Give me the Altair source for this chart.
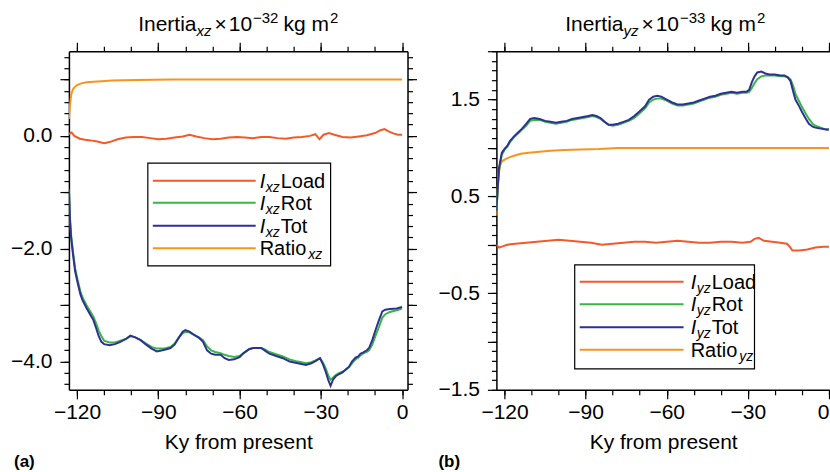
import altair as alt
import pandas as pd

FONT = "Liberation Sans"
C_LOAD = "#F15A29"
C_ROT = "#39B54A"
C_TOT = "#2E3192"
C_RATIO = "#F7941D"

# ---------------- panel (a): xz ----------------
A_T = [-123, -122.6, -122.2, -121.5, -120.7, -119.8, -118.8, -118, -116.5, -115,
       -114, -113, -112, -111, -110, -108, -106, -104, -102, -100.3,
       -98.5, -96.5, -94.5, -92.5, -90.5, -88.5, -87, -85.5, -84, -82.5,
       -81, -80, -78.5, -77, -75, -73.5, -72, -70.5, -69, -67,
       -65.5, -64, -62, -60, -58.5, -56.5, -55, -52, -50.5, -49,
       -46.5, -44, -41.5, -38.5, -35.5, -33.5, -32, -30.3, -29.2, -28.2,
       -27.3, -26.4, -25.5, -24.5, -23.2, -22, -21, -19.6, -18.5, -17.2,
       -16.2, -15.4, -14.5, -13, -12.2, -11, -9.8, -8.5, -7.3, -6.2,
       -4.5, -2, 0]
A_TOT = [-0.95, -1.5, -1.8, -2.1, -2.4, -2.6, -2.8, -2.91, -3.05, -3.18,
         -3.26, -3.4, -3.55, -3.65, -3.69, -3.71, -3.69, -3.65, -3.6, -3.54,
         -3.57, -3.62, -3.7, -3.77, -3.82, -3.8, -3.78, -3.76, -3.7, -3.58,
         -3.47, -3.44, -3.47, -3.52, -3.58, -3.65, -3.8, -3.86, -3.88, -3.88,
         -3.94, -3.97, -3.96, -3.92, -3.85, -3.78, -3.76, -3.76, -3.81, -3.86,
         -3.9, -3.94, -4.0, -4.03, -4.06, -4.03, -3.99, -3.94, -4.05, -4.18,
         -4.32, -4.43, -4.32, -4.26, -4.22, -4.19, -4.15, -4.09, -4.0, -3.93,
         -3.91, -3.86, -3.84, -3.8, -3.76, -3.62, -3.44, -3.26, -3.11, -3.08,
         -3.07, -3.06, -3.03]
A_ROT = [-0.95, -1.45, -1.75, -2.05, -2.35, -2.55, -2.75, -2.86, -3.0, -3.12,
         -3.2, -3.32, -3.45, -3.55, -3.63, -3.66, -3.66, -3.63, -3.6, -3.55,
         -3.57, -3.62, -3.68, -3.74, -3.77, -3.77, -3.76, -3.74, -3.68, -3.58,
         -3.5, -3.47, -3.48, -3.52, -3.57, -3.62, -3.73, -3.8, -3.83, -3.85,
         -3.88, -3.9, -3.92, -3.9, -3.85, -3.78, -3.76, -3.76, -3.79, -3.83,
         -3.87, -3.91, -3.96, -4.0, -4.03, -4.01, -3.98, -3.94, -4.02, -4.12,
         -4.24, -4.32, -4.28, -4.24, -4.2, -4.18, -4.15, -4.1, -4.03, -3.96,
         -3.93, -3.89, -3.86, -3.83, -3.8, -3.7, -3.54, -3.38, -3.22, -3.16,
         -3.12, -3.09, -3.06]
A_LOAD_T = [-123, -122, -121, -119, -117, -115, -112.5, -110, -108, -105,
            -102, -99, -96, -93, -90, -87, -84, -81, -78.5, -76,
            -73, -70, -67, -64, -61, -58, -55, -52, -49, -46,
            -43, -40, -37, -34, -32, -30.5, -29, -27, -25, -22,
            -19, -16, -13, -10, -8, -6.5, -5, -3, -1.5, 0]
A_LOAD = [0.03, 0.06, 0.0, -0.05, -0.07, -0.08, -0.1, -0.13, -0.11, -0.06,
          -0.03, -0.02, -0.02, -0.04, -0.06, -0.05, -0.03, -0.01, 0.02, -0.01,
          -0.04, -0.06, -0.05, -0.03, -0.02, -0.03, -0.04, -0.02, -0.02, -0.04,
          -0.05, -0.03, -0.02, 0.0, 0.03, -0.06, 0.02, 0.05, 0.02, -0.02,
          -0.03, -0.01, 0.01, 0.05, 0.1, 0.12, 0.08, 0.04, 0.02, 0.02]
A_RATIO_T = [-123, -122.6, -122.2, -121.6, -121, -120, -118.5, -116.5, -114, -111,
             -107, -103, -98, -92, -85, -75, 0]
A_RATIO = [0.3, 0.55, 0.72, 0.82, 0.86, 0.9, 0.93, 0.95, 0.96, 0.97,
           0.98, 0.985, 0.99, 0.995, 1.0, 1.0, 1.0]

# ---------------- panel (b): yz ----------------
B_T = [-123, -122.5, -122, -121, -120, -119, -118, -116.5, -115, -113.5,
       -112, -110.5, -109, -107, -105, -103, -101, -99, -97, -95,
       -93, -91, -89, -87.5, -86, -84.5, -83, -81.5, -80, -78,
       -76, -74, -72, -70, -68, -66.5, -65, -63.5, -62, -60,
       -58, -56, -54, -52, -50, -48, -46, -44, -42, -40,
       -38, -36, -34, -32, -30.5, -29.5, -28.5, -27.5, -26.5, -25,
       -23.5, -22, -20, -18, -16.5, -15.2, -14.2, -13.2, -12.4, -11,
       -9.9, -8.5, -7.4, -6, -5, -3, -1, 0]
B_TOT = [0.35, 0.6, 0.8, 0.95, 0.99, 1.02, 1.07, 1.12, 1.16, 1.2,
         1.25, 1.3, 1.31, 1.3, 1.28, 1.27, 1.26, 1.27, 1.28, 1.3,
         1.31, 1.32, 1.33, 1.34, 1.33, 1.31, 1.27, 1.24, 1.24, 1.25,
         1.27, 1.29, 1.33, 1.38, 1.43, 1.5, 1.53, 1.54, 1.53, 1.5,
         1.47, 1.45, 1.45, 1.46, 1.47, 1.49, 1.51, 1.53, 1.54, 1.56,
         1.57, 1.58, 1.57, 1.58, 1.58, 1.6, 1.68, 1.74, 1.78, 1.79,
         1.77, 1.76, 1.76, 1.75, 1.75, 1.73, 1.69, 1.58, 1.5, 1.43,
         1.37, 1.3, 1.25, 1.22, 1.21, 1.2, 1.19, 1.19]
B_ROT = [0.35, 0.58, 0.78, 0.93, 0.98, 1.01, 1.06, 1.11, 1.15, 1.19,
         1.23, 1.28, 1.29, 1.29, 1.27, 1.26, 1.25, 1.26, 1.27, 1.29,
         1.3, 1.31, 1.32, 1.33, 1.32, 1.3, 1.27, 1.24, 1.23, 1.24,
         1.26, 1.28, 1.31, 1.36, 1.41, 1.47, 1.5, 1.51, 1.51, 1.49,
         1.46, 1.44, 1.44, 1.45, 1.46, 1.48, 1.5, 1.52, 1.53, 1.55,
         1.56, 1.57, 1.56, 1.57, 1.57, 1.58, 1.62, 1.67, 1.71, 1.74,
         1.75, 1.75, 1.75, 1.74, 1.74, 1.73, 1.71, 1.64, 1.56, 1.48,
         1.42, 1.35, 1.3, 1.25, 1.23, 1.21, 1.19, 1.19]
B_LOAD_T = [-123, -122, -121, -119, -116, -112, -108, -104, -100, -96,
            -92, -88, -84, -80, -76, -72, -68, -64, -60, -56,
            -52, -48, -44, -40, -36, -32, -29, -27.5, -26, -24,
            -21, -18, -15.5, -14.5, -13.5, -11, -8, -5, -2, 0]
B_LOAD = [0.0, -0.03, -0.02, 0.0, 0.01, 0.02, 0.03, 0.04, 0.05, 0.04,
          0.03, 0.02, 0.0, 0.01, 0.02, 0.03, 0.03, 0.02, 0.03, 0.04,
          0.03, 0.02, 0.02, 0.03, 0.03, 0.02, 0.03, 0.06, 0.07, 0.04,
          0.03, 0.02, 0.01, -0.02, -0.06, -0.06, -0.05, -0.03, -0.02, -0.02]
B_RATIO_T = [-123, -122.6, -122.2, -121.6, -121, -120, -118.5, -116.5, -114, -111,
             -107, -103, -98, -92, -85, -78, 0]
B_RATIO = [0.3, 0.55, 0.72, 0.82, 0.86, 0.88, 0.9, 0.92, 0.94, 0.95,
           0.96, 0.97, 0.98, 0.985, 0.99, 1.0, 1.0]

# axis tick positions
X_MAJOR = [-120, -90, -60, -30, 0]
X_MINOR = [-120, -110, -100, -90, -80, -70, -60, -50, -40, -30, -20, -10, 0]
A_Y_MAJOR = [-4.0, -3.0, -2.0, -1.0, 0.0, 1.0]
A_Y_MINOR = [round(-4.4 + 0.2 * i, 1) for i in range(30)]
B_Y_MAJOR = [-1.5, -1.0, -0.5, 0.0, 0.5, 1.0, 1.5, 2.0]
B_Y_MINOR = [round(-1.5 + 0.1 * i, 1) for i in range(36)]

# ---------------- helpers ----------------
ADV = {"I": 278, "n": 556, "e": 556, "r": 333, "t": 278, "i": 222, "a": 556,
       "x": 500, "z": 500, "y": 500, " ": 278, "×": 584, "1": 556, "0": 556,
       "2": 556, "3": 556, "−": 584, "k": 500, "g": 556, "m": 833, "L": 556,
       "o": 556, "d": 556, "R": 722, "T": 611}


def tw(s, size):
    return sum(ADV.get(c, 556) for c in s) * size / 1000.0


ONE = pd.DataFrame({"k": [0]})


def rich(pieces, x, y, center=False):
    total = sum(tw(p[0], p[1]) + p[4] for p in pieces)
    cx = x - total / 2 if center else x
    out = []
    for text, size, italic, dy, gap in pieces:
        cx += gap
        out.append(
            alt.Chart(ONE).mark_text(
                text=text, align="left", baseline="alphabetic", font=FONT,
                fontSize=size, fontStyle="italic" if italic else "normal",
                color="black",
            ).encode(x=alt.value(cx), y=alt.value(y + dy))
        )
        cx += tw(text, size)
    return out


def axis(orient, values, size, labels=False, domain=False, **kw):
    d = dict(orient=orient, values=values, tickSize=size, tickWidth=1.2,
             tickColor="black", labels=labels, domain=domain, domainWidth=1.5,
             domainColor="black", grid=False, title=None)
    d.update(kw)
    return alt.Axis(**d)


def axis_layers(xdom, ydom, ymaj, ymin, ylabel_expr, right, xflush):
    anchor = pd.DataFrame({"t": [xdom[0]], "v": [ydom[0]]})
    xs = alt.Scale(domain=xdom, nice=False, zero=False)
    ys = alt.Scale(domain=ydom, nice=False, zero=False)
    lab = dict(labelFont=FONT, labelFontSize=21, labelColor="black", labelOverlap=False)
    specs = [
        (axis("bottom", X_MAJOR, 9, labels=True, domain=True, format="d",
              labelPadding=3, labelFlush=xflush, title="Ky from present",
              titleFont=FONT, titleFontSize=21, titleFontWeight="normal",
              titleColor="black", titlePadding=9, **lab),
         axis("left", ymaj, 9, labels=True, domain=True, format=".1f",
              labelPadding=8, labelExpr=ylabel_expr, **lab)),
        (axis("bottom", X_MINOR, 5), axis("left", ymin, 5)),
        (axis("top", X_MAJOR, 9, domain=True),
         axis("right", ymaj, 9, domain=True) if right else None),
        (axis("top", X_MINOR, 5),
         axis("right", ymin, 5) if right else None),
    ]
    out = []
    for xa, ya in specs:
        out.append(
            alt.Chart(anchor).mark_point(opacity=0).encode(
                x=alt.X("t:Q", scale=xs, axis=xa),
                y=alt.Y("v:Q", scale=ys, axis=ya),
            )
        )
    return out, xs, ys


def legend(sub, box, line_x, text_x, rows):
    x0, x1, y0, y1 = box
    out = [alt.Chart(ONE).mark_rect(fill="white", stroke="black", strokeWidth=1.2).encode(
        x=alt.value(x0), x2=alt.value(x1), y=alt.value(y0), y2=alt.value(y1))]
    entries = [("Load", C_LOAD), ("Rot", C_ROT), ("Tot", C_TOT), ("Ratio", C_RATIO)]
    for (name, col), ry in zip(entries, rows):
        out.append(alt.Chart(ONE).mark_rule(color=col, strokeWidth=2).encode(
            x=alt.value(line_x[0]), x2=alt.value(line_x[1]), y=alt.value(ry)))
        if name == "Ratio":
            pieces = [("Ratio", 20, False, 0, 0), (sub, 14, True, 4, 2)]
        else:
            pieces = [("I", 20, True, 0, 0), (sub, 14, True, 4, 0.5), (name, 20, False, 0, 1)]
        out += rich(pieces, text_x, ry + 7)
    return out


def panel(series, xdom, ydom, ymaj, ymin, ylabel_expr, right, xflush, w, h,
          sub, exp, title_cx, leg_box, leg_line, leg_text, leg_rows, letter, letter_x):
    layers, xs, ys = axis_layers(xdom, ydom, ymaj, ymin, ylabel_expr, right, xflush)
    for t, v, col in series:
        df = pd.DataFrame({"t": t, "v": v})
        layers.append(
            alt.Chart(df).mark_line(color=col, strokeWidth=2, clip=True).encode(
                x=alt.X("t:Q", scale=xs, axis=None),
                y=alt.Y("v:Q", scale=ys, axis=None),
            )
        )
    layers += legend(sub, leg_box, leg_line, leg_text, leg_rows)
    title = [("Inertia", 21, False, 0, 0), (sub, 15, True, 5, 0),
             ("×", 21, False, 0, 3), ("10", 21, False, 0, 2),
             (exp, 15, False, -8, 1), ("kg m", 21, False, 0, 5),
             ("2", 15, False, -8, 1)]
    layers += rich(title, title_cx, -20, center=True)
    layers.append(
        alt.Chart(ONE).mark_text(text=letter, align="left", baseline="alphabetic",
                                 font=FONT, fontSize=17, fontWeight="bold",
                                 color="black").encode(x=alt.value(letter_x), y=alt.value(416))
    )
    return alt.layer(*layers).properties(width=w, height=h).resolve_axis(
        x="independent", y="independent")


pa = panel(
    [(A_RATIO_T, A_RATIO, C_RATIO), (A_LOAD_T, A_LOAD, C_LOAD),
     (A_T, A_ROT, C_ROT), (A_T, A_TOT, C_TOT)],
    [-123, 2], [-4.5, 1.5], A_Y_MAJOR, A_Y_MINOR,
    "datum.value % 2 === 0 ? datum.label : ''", True, False, 339, 339,
    "xz", "−32", 169.5, (79, 262, 112, 215), (84, 187), 191,
    [129.7, 151.7, 174.7, 197.3], "(a)", -55)

pb = panel(
    [(B_RATIO_T, B_RATIO, C_RATIO), (B_LOAD_T, B_LOAD, C_LOAD),
     (B_T, B_ROT, C_ROT), (B_T, B_TOT, C_TOT)],
    [-123, 0.4], [-1.5, 2.0], B_Y_MAJOR, B_Y_MINOR,
    "(datum.value + 1.5) % 1 === 0 ? datum.label : ''", False, 5, 334, 339,
    "yz", "−33", 169, (78.4, 258.4, 214, 318), (83.4, 187.4), 194.5,
    [230.7, 253.3, 276.3, 299], "(b)", -58)

chart = alt.hconcat(pa, pb, spacing=20).properties(
    padding={"left": 10, "top": 11, "right": 0, "bottom": 0},
    background="white",
).configure_view(stroke=None)

chart.save("out.html", embed_options={"renderer": "svg", "actions": False})
